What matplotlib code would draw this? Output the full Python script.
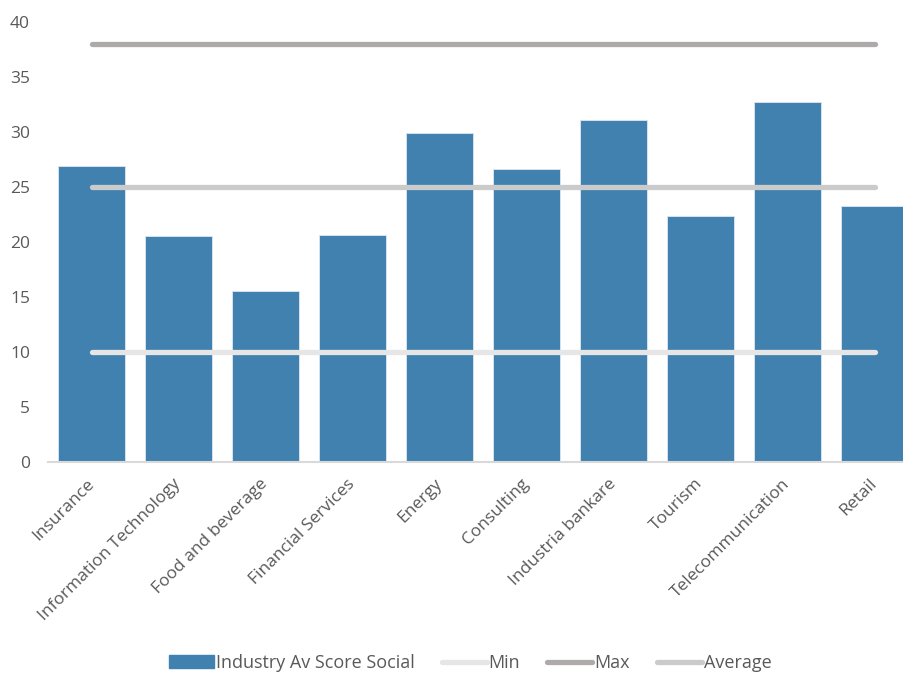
import matplotlib.pyplot as plt
from matplotlib.patches import Patch
from matplotlib.lines import Line2D

# data
categories = ['Insurance', 'Information Technology', 'Food and beverage',
              'Financial Services', 'Energy', 'Consulting', 'Industria bankare',
              'Tourism', 'Telecommunication', 'Retail']
scores = [26.9, 20.5, 15.5, 20.6, 29.9, 26.6, 31.1, 22.4, 32.7, 23.3]
min_vals = [10] * 10
max_vals = [38] * 10
avg_vals = [25] * 10

plt.rcParams['font.family'] = ['Open Sans', 'DejaVu Sans']
txt = '#595959'
bar_col = '#4181B0'
min_col = '#E7E6E6'
max_col = '#AEAAAA'
avg_col = '#CBCBCB'

fig = plt.figure(figsize=(9.04, 6.80), dpi=100)
# the reference is cropped on the right, so the axes run past the figure edge
ax = fig.add_axes([48 / 904, 218 / 680, 870 / 904, 440 / 680])

x = list(range(len(categories)))
ax.bar(x, scores, width=0.77, color=bar_col, edgecolor='#DCE8F2', linewidth=0.6,
       zorder=2)
ax.plot(x, min_vals, color=min_col, lw=3.8, solid_capstyle='round', zorder=3)
ax.plot(x, max_vals, color=max_col, lw=3.8, solid_capstyle='round', zorder=3)
ax.plot(x, avg_vals, color=avg_col, lw=3.8, solid_capstyle='round', zorder=3)

ax.set_xlim(-0.5, len(categories) - 0.5)
ax.set_ylim(0, 40)
ax.set_yticks(range(0, 41, 5))
ax.set_xticks(x)
ax.set_xticklabels(categories, rotation=45, ha='right', va='center',
                   rotation_mode='anchor')
ax.tick_params(axis='both', length=0, labelsize=12.5, colors=txt)
ax.tick_params(axis='x', pad=14)
ax.tick_params(axis='y', pad=13)
for s in ['top', 'right', 'left']:
    ax.spines[s].set_visible(False)
ax.spines['bottom'].set_color('#D9D9D9')
ax.spines['bottom'].set_linewidth(1.5)

handles = [Patch(color=bar_col),
           Line2D([0], [0], color=min_col, lw=3.8, solid_capstyle='round'),
           Line2D([0], [0], color=max_col, lw=3.8, solid_capstyle='round'),
           Line2D([0], [0], color=avg_col, lw=3.8, solid_capstyle='round')]
labels = ['Industry Av Score Social', 'Min', 'Max', 'Average']
fig.legend(handles, labels, loc='lower center', bbox_to_anchor=(0.52, -0.012),
           ncol=4, frameon=False, fontsize=13, labelcolor=txt,
           handlelength=2.5, handletextpad=0.1, columnspacing=1.5)

fig.savefig('out.png', dpi=100)
